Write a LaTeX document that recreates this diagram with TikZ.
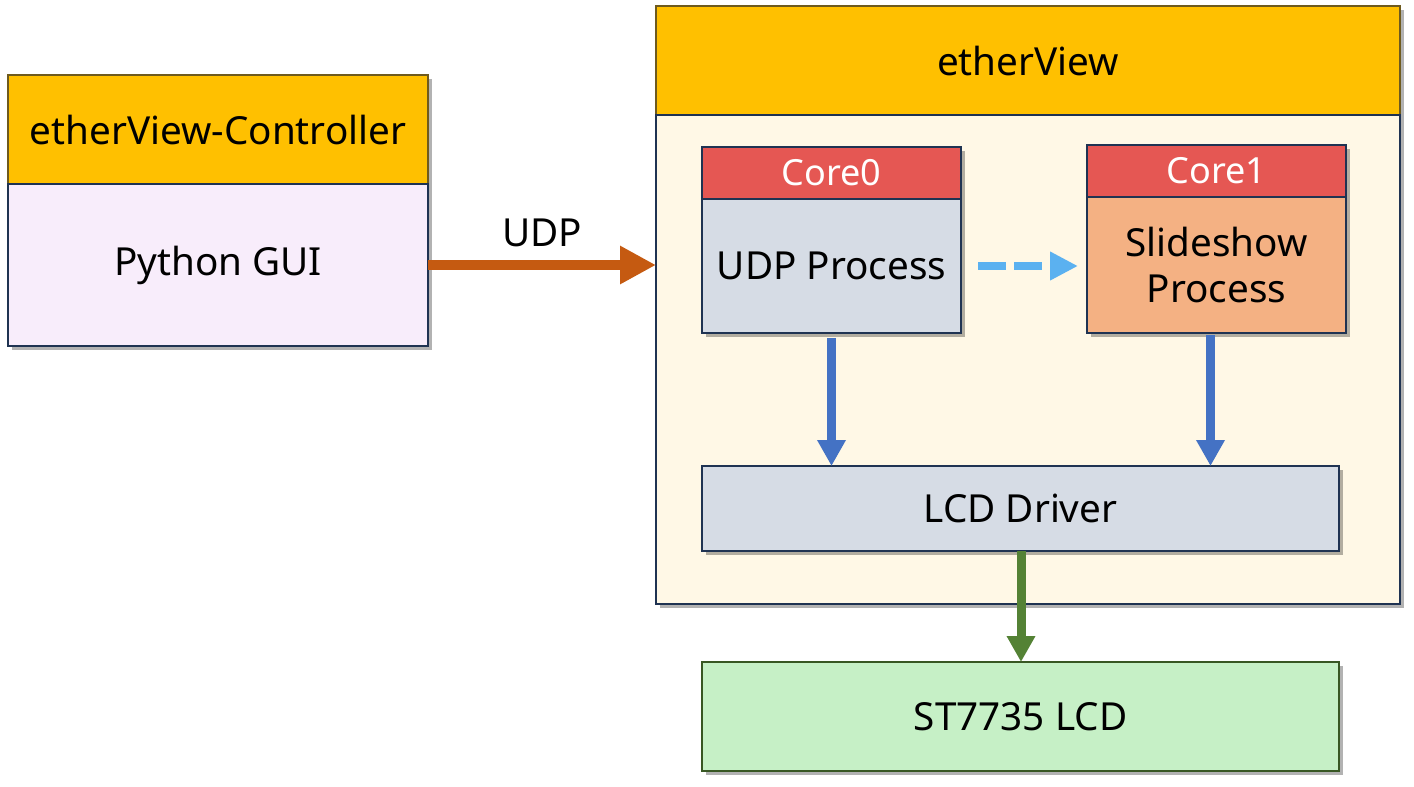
\documentclass[tikz,border=0pt]{standalone}
\usepackage{fontspec}
\setmainfont{Noto Sans}
\usepackage{xcolor}
\usepackage{tikz}
\usetikzlibrary{arrows.meta, positioning, shadows}
\definecolor{ev-navy}{HTML}{1F3352}
\definecolor{ev-gold}{HTML}{FFC000}
\definecolor{ev-brown}{HTML}{6E5A1E}
\definecolor{ev-lilac}{HTML}{F8EDFB}
\definecolor{ev-cream}{HTML}{FFF8E6}
\definecolor{ev-red}{HTML}{E55753}
\definecolor{ev-steel}{HTML}{D6DCE5}
\definecolor{ev-peach}{HTML}{F4B183}
\definecolor{ev-mint}{HTML}{C6F0C6}
\definecolor{ev-forest}{HTML}{385723}
\definecolor{ev-rust}{HTML}{C55A11}
\definecolor{ev-sky}{HTML}{5BB1F0}
\definecolor{ev-blue}{HTML}{4472C4}
\definecolor{ev-leaf}{HTML}{548235}

\begin{document}
\begin{tikzpicture}[
			box/.style={
				draw=ev-navy, line width=0.04cm, inner sep=0pt, outer sep=0pt,
				align=center, font=\fontsize{22}{26}\selectfont,
				drop shadow={shadow xshift=0.07cm, shadow yshift=-0.07cm, fill=black, opacity=0.3}
			},
			title/.style={box, fill=ev-gold, draw=ev-brown},
			corehead/.style={box, fill=ev-red, minimum width=5.18cm, minimum height=1.04cm,
				font=\fontsize{20.5}{24}\selectfont\color{white}},
			flow/.style={line width=0.18cm, -{Triangle[length=0.52cm, width=0.54cm]}},
			node distance=0pt
			]
			\useasboundingbox (0,0) rectangle (28.28,-15.72);
			\node[title, minimum width=8.4cm, minimum height=2.18cm, anchor=north west] (ctlhead) at (0.16,-1.5) {etherView-Controller};
			\node[box, fill=ev-lilac, minimum width=8.4cm, minimum height=3.24cm, below=of ctlhead] (gui) {Python GUI};
			\node[title, minimum width=14.88cm, minimum height=2.18cm, anchor=north west] (evhead) at (13.12,-0.12) {etherView};
			\node[box, fill=ev-cream, minimum width=14.88cm, minimum height=9.78cm, below=of evhead] (evbody) {};
			\node[corehead, anchor=north west] (core0) at (14.04,-2.94) {Core0};
			\node[box, fill=ev-steel, minimum width=5.18cm, minimum height=2.68cm, below=of core0] (udp) {UDP Process};
			\node[corehead, anchor=north west] (core1) at (21.74,-2.9) {Core1};
			\node[box, fill=ev-peach, minimum width=5.18cm, minimum height=2.72cm, below=of core1] (slide) {Slideshow\\Process};
			\node[box, fill=ev-steel, minimum width=12.74cm, minimum height=1.7cm, anchor=north west] (driver) at (14.04,-9.32) {LCD Driver};
			\node[box, fill=ev-mint, draw=ev-forest, minimum width=12.74cm, minimum height=2.18cm, anchor=north west] (lcd) at (14.04,-13.24) {ST7735 LCD};

			\draw[line width=0.2cm, ev-rust, -{Triangle[length=0.72cm, width=0.72cm]}] (gui.east) -- (gui.east -| evbody.west)
				node[midway, above=0.14cm, black, font=\fontsize{22}{26}\selectfont] (udplabel) {UDP};
			\draw[line width=0.16cm, ev-sky, dash pattern=on 0.56cm off 0.16cm, -{Triangle[length=0.56cm, width=0.54cm]},
				shorten <=0.34cm, shorten >=0.18cm] (udp.east |- 0,-5.32) -- (slide.west |- 0,-5.32);
			\draw[flow, ev-blue, shorten <=0.1cm] (udp.south) -- (udp.south |- driver.north);
			\draw[flow, ev-blue, shorten <=0.04cm] ([xshift=-0.12cm]slide.south) -- ([xshift=-0.12cm]slide.south |- driver.north);
			\draw[flow, ev-leaf] (driver.south -| 20.42,0) -- (lcd.north -| 20.42,0);
		\end{tikzpicture}
\end{document}
